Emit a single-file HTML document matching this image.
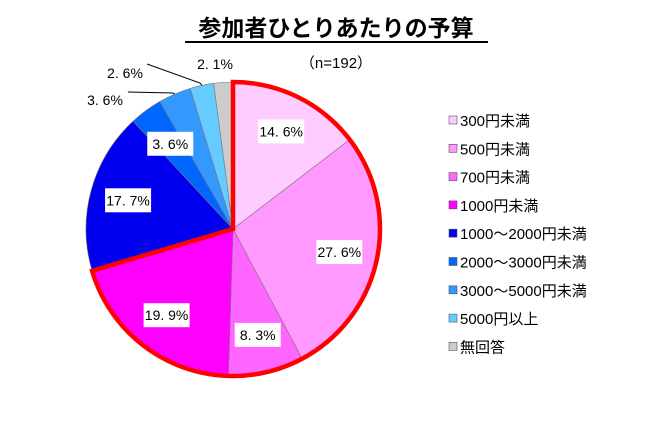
<!DOCTYPE html>
<html><head><meta charset="utf-8"><style>
body{margin:0;background:#fff;width:650px;height:421px;overflow:hidden;font-family:"Liberation Sans","Noto Sans CJK JP",sans-serif}
</style></head><body>
<svg width="650" height="421" font-family="Liberation Sans, Noto Sans CJK JP, sans-serif">
<text x="336" y="36" text-anchor="middle" font-size="23" font-weight="bold">参加者ひとりあたりの予算</text>
<line x1="185" y1="42" x2="488" y2="42" stroke="#000" stroke-width="2"/>
<text x="336" y="68" text-anchor="middle" font-size="15">（n=192）</text>
<g id="slices"></g>
<g id="labels"></g>
<g id="legend"></g>
</svg>
<script>
const categories=["300円未満","500円未満","700円未満","1000円未満","1000～2000円未満","2000～3000円未満","3000～5000円未満","5000円以上","無回答"];
const values=[14.6,27.6,8.3,19.9,17.7,3.6,3.6,2.6,2.1];
const colors=["#ffccff","#ff99ff","#ff66ff","#ff00ff","#0000ee","#0066ff","#3399ff","#66ccff","#cccccc"];
const cx=233,cy=229,r=147;
const NS="http://www.w3.org/2000/svg";
const gS=document.getElementById('slices'),gL=document.getElementById('labels'),gG=document.getElementById('legend');
const total=values.reduce((a,b)=>a+b,0);
function pt(a,rr){return [cx+rr*Math.sin(a),cy-rr*Math.cos(a)];}
let a0=0;const mids=[];
values.forEach((v,i)=>{
 const a1=a0+v/total*2*Math.PI;
 const p0=pt(a0,r),p1=pt(a1,r);
 const p=document.createElementNS(NS,'path');
 p.setAttribute('d',`M${cx},${cy}L${p0[0]},${p0[1]}A${r},${r} 0 ${a1-a0>Math.PI?1:0} 1 ${p1[0]},${p1[1]}Z`);
 p.setAttribute('fill',colors[i]);p.setAttribute('stroke','#777');p.setAttribute('stroke-width','0.6');
 
 
 gS.appendChild(p);mids.push((a0+a1)/2);a0=a1;
});
let sum4=values.slice(0,4).reduce((a,b)=>a+b,0);
const e=sum4/total*2*Math.PI;const q0=pt(0,r),q1=pt(e,r);
const o=document.createElementNS(NS,'path');
o.setAttribute('d',`M${cx},${cy}L${q0[0]},${q0[1]}A${r},${r} 0 ${e>Math.PI?1:0} 1 ${q1[0]},${q1[1]}Z`);
o.setAttribute('fill','none');o.setAttribute('stroke','#ff0000');o.setAttribute('stroke-width','4.5');


gS.appendChild(o);
const outside={6:[105,100,128,92,173,93],7:[125,73,147,64,200,83],8:[215,64]};
values.forEach((v,i)=>{
 const t=v.toFixed(1).replace('.','. ')+'%';
 let x,y,box=true;
 if(i<6){const p=pt(mids[i],r*(i==5?0.72:0.74));x=p[0];y=p[1];}
 else {box=false;const q=outside[i];x=q[0];y=q[1];
  if(q.length>2){const l=document.createElementNS(NS,'polyline');
   const p=pt(mids[i],r);
   l.setAttribute('points',`${q[2]},${q[3]} ${q[4]},${q[5]} ${p[0]},${p[1]}`);
   l.setAttribute('fill','none');l.setAttribute('stroke','#000');l.setAttribute('stroke-width','1');gL.appendChild(l);}
 }
 if(box){const b=document.createElementNS(NS,'rect');
  const w=t.length>6?56:46;
  b.setAttribute('x',x-w/2);b.setAttribute('y',y-12);b.setAttribute('width',w);b.setAttribute('height',24);b.setAttribute('fill','#fff');gL.appendChild(b);}
 const tx=document.createElementNS(NS,'text');
 tx.setAttribute('x',x);tx.setAttribute('y',y+5);tx.setAttribute('text-anchor','middle');tx.setAttribute('font-size','14');
 tx.textContent=t;
 
 
 gL.appendChild(tx);
});
categories.forEach((c,i)=>{
 const y=120+i*28.3;
 const g=document.createElementNS(NS,'g');
 
 
 const s=document.createElementNS(NS,'rect');
 s.setAttribute('x',449);s.setAttribute('y',y-4);s.setAttribute('width',8);s.setAttribute('height',8);s.setAttribute('fill',colors[i]);s.setAttribute('stroke','#555');s.setAttribute('stroke-width','0.6');
 const t=document.createElementNS(NS,'text');
 t.setAttribute('x',460);t.setAttribute('y',y+6);t.setAttribute('font-size','15');t.textContent=c;
 g.appendChild(s);g.appendChild(t);gG.appendChild(g);
});
</script>
</body></html>
